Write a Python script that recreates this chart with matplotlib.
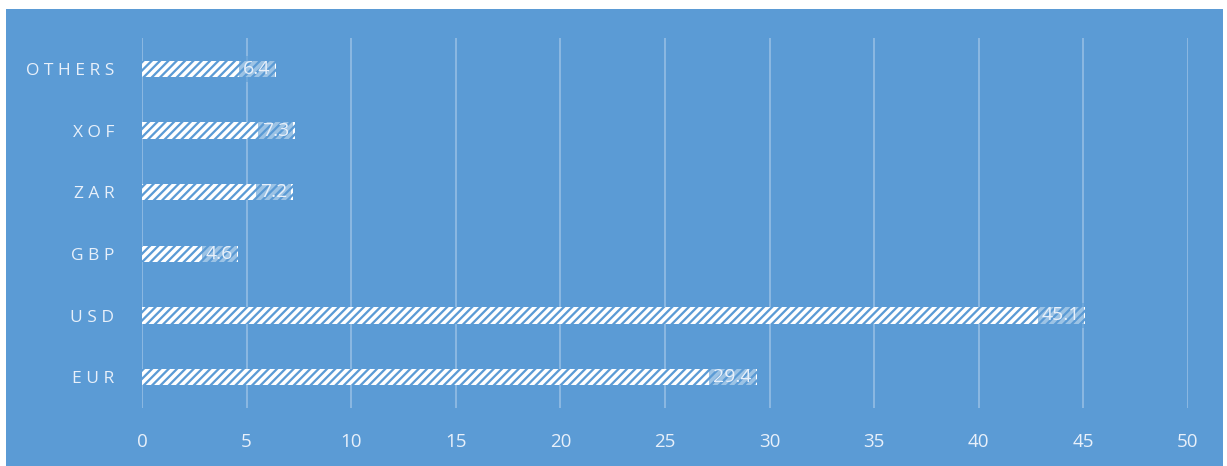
import matplotlib
matplotlib.use("Agg")
from matplotlib import pyplot as plt

currencies = ['EUR', 'USD', 'GBP', 'ZAR', 'XOF', 'OTHERS']
shares = [29.4, 45.1, 4.6, 7.2, 7.3, 6.4]
x_ticks = [0, 5, 10, 15, 20, 25, 30, 35, 40, 45, 50]

BLUE = '#5b9bd5'
TEXT = '#e8f0fa'

plt.rcParams['font.family'] = ['Open Sans', 'DejaVu Sans']
plt.rcParams['hatch.linewidth'] = 2.6

fig = plt.figure(figsize=(12.27, 4.66), dpi=100)
fig.patch.set_facecolor('white')

# blue chart area, slightly inset from the top/left edges
bg = fig.add_axes((6/1227, 0, 1217/1227, 457/466), zorder=-1)
bg.set_facecolor(BLUE)
bg.set_xticks([])
bg.set_yticks([])
for s in bg.spines.values():
    s.set_visible(False)

ax = fig.add_axes((142/1227, 1 - 408/466, (1188 - 142)/1227, 370/466))
ax.set_facecolor('none')

ypos = list(range(len(currencies)))
bars = ax.barh(ypos, shares, height=0.26, color=BLUE, edgecolor='white', linewidth=0,
               hatch='////', zorder=2)

for y, v in zip(ypos, shares):
    ax.text(v - 0.25, y, f"{v}", ha='right', va='center', fontsize=14, color=TEXT, zorder=3,
            bbox=dict(boxstyle='square,pad=0.2', facecolor=BLUE, alpha=0.6, edgecolor='none'))

ax.set_xlim(0, 50)
ax.set_ylim(-0.5, len(currencies) - 0.5)
ax.set_xticks(x_ticks)
ax.set_yticks(ypos)
ax.set_yticklabels([' '.join(c) for c in currencies])
ax.grid(axis='x', color='white', alpha=0.35, linewidth=1.2, zorder=1)
ax.set_axisbelow(True)
for s in ax.spines.values():
    s.set_visible(False)
ax.tick_params(axis='x', length=0, pad=18, labelsize=13.5, labelcolor=TEXT)
ax.tick_params(axis='y', length=0, pad=20, labelsize=12.5, labelcolor=TEXT)

fig.savefig('out.png', dpi=100, facecolor=fig.get_facecolor())
